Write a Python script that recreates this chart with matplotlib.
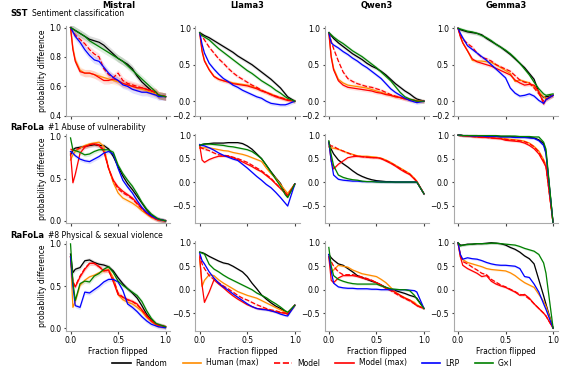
import numpy as np
import matplotlib
matplotlib.use("Agg")
import matplotlib.pyplot as plt
from matplotlib.lines import Line2D

# fraction of tokens flipped (shared x grid)
frac = [0, 0.025, 0.05, 0.1, 0.15, 0.2, 0.25, 0.3, 0.35, 0.4, 0.45,
        0.5, 0.55, 0.6, 0.65, 0.7, 0.75, 0.8, 0.85, 0.9, 0.925, 1.0]

methods = ["Random", "Human (max)", "Model", "Model (max)", "LRP", "G×I"]
colors = ["black", "darkorange", "red", "red", "blue", "green"]
styles = ["-", "-", "--", "-", "-", "-"]

models = ["Mistral", "Llama3", "Qwen3", "Gemma3"]

# ---- SST: sentiment classification ----
sst_mistral = {
    "Random":      [1.0, 0.99, 0.98, 0.96, 0.94, 0.92, 0.91, 0.90, 0.88, 0.85, 0.82, 0.79, 0.77, 0.75, 0.72, 0.67, 0.63, 0.60, 0.57, 0.55, 0.54, 0.53],
    "Human (max)": [1.0, 0.86, 0.78, 0.71, 0.69, 0.69, 0.68, 0.67, 0.66, 0.65, 0.64, 0.63, 0.62, 0.61, 0.60, 0.59, 0.58, 0.57, 0.56, 0.55, 0.54, 0.53],
    "Model":       [1.0, 0.97, 0.95, 0.92, 0.89, 0.85, 0.82, 0.80, 0.72, 0.68, 0.66, 0.69, 0.64, 0.62, 0.61, 0.60, 0.59, 0.58, 0.57, 0.56, 0.54, 0.53],
    "Model (max)": [1.0, 0.85, 0.77, 0.70, 0.69, 0.69, 0.68, 0.66, 0.64, 0.64, 0.65, 0.64, 0.62, 0.61, 0.60, 0.59, 0.59, 0.58, 0.57, 0.56, 0.54, 0.53],
    "LRP":         [1.0, 0.97, 0.94, 0.90, 0.85, 0.81, 0.78, 0.77, 0.73, 0.69, 0.66, 0.64, 0.61, 0.60, 0.58, 0.57, 0.56, 0.56, 0.55, 0.54, 0.53, 0.53],
    "G×I":         [1.0, 0.99, 0.98, 0.96, 0.94, 0.91, 0.89, 0.87, 0.85, 0.83, 0.81, 0.79, 0.77, 0.74, 0.71, 0.68, 0.65, 0.62, 0.59, 0.56, 0.54, 0.53],
}
sst_llama = {
    "Random":      [0.94, 0.92, 0.90, 0.87, 0.83, 0.79, 0.75, 0.71, 0.67, 0.62, 0.58, 0.54, 0.50, 0.45, 0.40, 0.35, 0.30, 0.24, 0.18, 0.10, 0.06, 0.0],
    "Human (max)": [0.94, 0.70, 0.56, 0.43, 0.34, 0.30, 0.28, 0.27, 0.25, 0.24, 0.23, 0.22, 0.20, 0.18, 0.15, 0.12, 0.10, 0.07, 0.05, 0.03, 0.02, 0.0],
    "Model":       [0.94, 0.89, 0.84, 0.74, 0.66, 0.58, 0.52, 0.45, 0.39, 0.34, 0.30, 0.26, 0.22, 0.19, 0.15, 0.12, 0.09, 0.07, 0.05, 0.03, 0.02, 0.0],
    "Model (max)": [0.94, 0.68, 0.55, 0.43, 0.34, 0.30, 0.28, 0.26, 0.24, 0.23, 0.22, 0.21, 0.19, 0.17, 0.14, 0.12, 0.09, 0.06, 0.04, 0.02, 0.01, 0.0],
    "LRP":         [0.94, 0.78, 0.66, 0.52, 0.44, 0.37, 0.31, 0.27, 0.22, 0.19, 0.15, 0.12, 0.09, 0.06, 0.04, 0.0, -0.03, -0.04, -0.05, -0.05, -0.04, 0.0],
    "G×I":         [0.94, 0.90, 0.88, 0.84, 0.78, 0.72, 0.67, 0.62, 0.57, 0.52, 0.47, 0.42, 0.38, 0.33, 0.28, 0.24, 0.20, 0.15, 0.11, 0.06, 0.04, 0.0],
}
sst_qwen = {
    "Random":      [0.94, 0.90, 0.86, 0.80, 0.75, 0.70, 0.65, 0.61, 0.57, 0.52, 0.48, 0.45, 0.41, 0.36, 0.30, 0.24, 0.19, 0.14, 0.10, 0.05, 0.03, 0.0],
    "Human (max)": [0.94, 0.62, 0.45, 0.30, 0.25, 0.22, 0.21, 0.20, 0.19, 0.18, 0.16, 0.14, 0.12, 0.10, 0.08, 0.06, 0.05, 0.04, 0.02, 0.01, 0.01, 0.0],
    "Model":       [0.94, 0.82, 0.72, 0.55, 0.40, 0.31, 0.27, 0.24, 0.22, 0.20, 0.19, 0.17, 0.15, 0.12, 0.09, 0.07, 0.05, 0.03, 0.02, 0.01, 0.0, 0.0],
    "Model (max)": [0.94, 0.60, 0.43, 0.28, 0.22, 0.19, 0.18, 0.17, 0.16, 0.15, 0.14, 0.12, 0.11, 0.09, 0.08, 0.06, 0.05, 0.03, 0.02, 0.01, 0.0, 0.0],
    "LRP":         [0.94, 0.80, 0.77, 0.73, 0.68, 0.64, 0.59, 0.55, 0.50, 0.46, 0.41, 0.36, 0.31, 0.24, 0.17, 0.12, 0.08, 0.04, 0.01, -0.01, -0.02, 0.0],
    "G×I":         [0.94, 0.91, 0.88, 0.83, 0.79, 0.74, 0.69, 0.65, 0.61, 0.56, 0.51, 0.46, 0.40, 0.34, 0.28, 0.20, 0.12, 0.06, 0.03, 0.01, 0.0, 0.0],
}
sst_gemma = {
    "Random":      [1.0, 0.98, 0.97, 0.95, 0.94, 0.93, 0.91, 0.86, 0.82, 0.78, 0.74, 0.69, 0.64, 0.58, 0.52, 0.46, 0.38, 0.30, 0.12, 0.05, 0.06, 0.08],
    "Human (max)": [1.0, 0.90, 0.80, 0.69, 0.56, 0.55, 0.55, 0.54, 0.53, 0.50, 0.46, 0.42, 0.38, 0.27, 0.29, 0.27, 0.25, 0.20, 0.13, 0.06, 0.03, 0.08],
    "Model":       [1.0, 0.90, 0.85, 0.79, 0.74, 0.66, 0.60, 0.58, 0.55, 0.50, 0.47, 0.44, 0.41, 0.35, 0.29, 0.26, 0.25, 0.18, 0.10, 0.0, 0.03, 0.08],
    "Model (max)": [1.0, 0.88, 0.80, 0.69, 0.58, 0.54, 0.52, 0.50, 0.48, 0.45, 0.42, 0.39, 0.36, 0.29, 0.25, 0.22, 0.23, 0.22, 0.13, -0.04, 0.02, 0.08],
    "LRP":         [1.0, 0.93, 0.87, 0.76, 0.71, 0.66, 0.61, 0.56, 0.50, 0.44, 0.38, 0.32, 0.18, 0.11, 0.07, 0.08, 0.10, 0.07, 0.01, -0.03, 0.02, 0.08],
    "G×I":         [1.0, 0.99, 0.98, 0.96, 0.95, 0.93, 0.90, 0.87, 0.83, 0.78, 0.74, 0.70, 0.65, 0.59, 0.52, 0.44, 0.36, 0.26, 0.17, 0.10, 0.08, 0.10],
}

# ---- RaFoLa #1: abuse of vulnerability ----
raf1_mistral = {
    "Random":      [0.78, 0.84, 0.86, 0.87, 0.88, 0.89, 0.90, 0.89, 0.89, 0.85, 0.76, 0.64, 0.53, 0.44, 0.37, 0.29, 0.21, 0.13, 0.07, 0.03, 0.02, 0.0],
    "Human (max)": [0.72, 0.78, 0.82, 0.86, 0.89, 0.91, 0.92, 0.93, 0.88, 0.62, 0.45, 0.33, 0.27, 0.24, 0.21, 0.17, 0.12, 0.08, 0.04, 0.02, 0.01, 0.0],
    "Model":       [0.85, 0.83, 0.84, 0.86, 0.88, 0.90, 0.91, 0.90, 0.84, 0.62, 0.47, 0.38, 0.33, 0.30, 0.26, 0.20, 0.14, 0.09, 0.05, 0.02, 0.01, 0.0],
    "Model (max)": [0.80, 0.45, 0.55, 0.80, 0.87, 0.90, 0.91, 0.89, 0.82, 0.62, 0.48, 0.40, 0.35, 0.31, 0.27, 0.21, 0.15, 0.09, 0.05, 0.02, 0.01, 0.0],
    "LRP":         [0.82, 0.80, 0.77, 0.73, 0.71, 0.70, 0.73, 0.76, 0.80, 0.82, 0.79, 0.62, 0.48, 0.40, 0.33, 0.24, 0.16, 0.10, 0.06, 0.03, 0.02, 0.0],
    "G×I":         [0.98, 0.84, 0.83, 0.81, 0.78, 0.79, 0.82, 0.84, 0.84, 0.84, 0.81, 0.66, 0.56, 0.48, 0.41, 0.32, 0.22, 0.14, 0.08, 0.04, 0.02, 0.0],
}
raf1_llama = {
    "Random":      [0.78, 0.80, 0.81, 0.82, 0.83, 0.83, 0.83, 0.84, 0.84, 0.84, 0.82, 0.77, 0.70, 0.60, 0.50, 0.36, 0.22, 0.09, -0.03, -0.24, -0.31, -0.04],
    "Human (max)": [0.72, 0.73, 0.73, 0.73, 0.71, 0.69, 0.67, 0.66, 0.63, 0.61, 0.59, 0.56, 0.52, 0.48, 0.44, 0.30, 0.18, 0.08, -0.05, -0.18, -0.24, -0.04],
    "Model":       [0.75, 0.72, 0.70, 0.67, 0.62, 0.58, 0.57, 0.56, 0.53, 0.50, 0.46, 0.42, 0.36, 0.30, 0.24, 0.16, 0.08, -0.03, -0.13, -0.22, -0.28, -0.04],
    "Model (max)": [0.78, 0.47, 0.42, 0.48, 0.52, 0.55, 0.55, 0.55, 0.52, 0.48, 0.43, 0.38, 0.33, 0.27, 0.22, 0.14, 0.06, -0.04, -0.14, -0.24, -0.29, -0.04],
    "LRP":         [0.80, 0.78, 0.77, 0.73, 0.68, 0.62, 0.57, 0.53, 0.49, 0.46, 0.38, 0.30, 0.21, 0.12, 0.04, -0.05, -0.12, -0.22, -0.33, -0.45, -0.51, -0.04],
    "G×I":         [0.78, 0.80, 0.81, 0.81, 0.80, 0.79, 0.78, 0.76, 0.75, 0.73, 0.71, 0.69, 0.65, 0.58, 0.50, 0.36, 0.21, 0.06, -0.09, -0.27, -0.33, -0.04],
}
raf1_qwen = {
    "Random":      [0.85, 0.70, 0.60, 0.47, 0.39, 0.32, 0.24, 0.17, 0.12, 0.08, 0.05, 0.03, 0.02, 0.01, 0.01, 0.0, 0.0, 0.0, 0.0, 0.0, 0.0, -0.25],
    "Human (max)": [0.75, 0.73, 0.72, 0.70, 0.66, 0.62, 0.59, 0.56, 0.55, 0.55, 0.54, 0.53, 0.51, 0.47, 0.42, 0.36, 0.30, 0.24, 0.18, 0.08, 0.02, -0.25],
    "Model":       [0.80, 0.77, 0.76, 0.70, 0.66, 0.62, 0.58, 0.55, 0.54, 0.53, 0.52, 0.52, 0.50, 0.46, 0.41, 0.35, 0.29, 0.23, 0.17, 0.07, 0.01, -0.25],
    "Model (max)": [0.85, 0.45, 0.28, 0.38, 0.45, 0.52, 0.54, 0.55, 0.54, 0.53, 0.52, 0.52, 0.50, 0.45, 0.40, 0.34, 0.27, 0.21, 0.16, 0.06, 0.01, -0.25],
    "LRP":         [0.85, 0.45, 0.15, 0.06, 0.04, 0.03, 0.02, 0.02, 0.01, 0.01, 0.01, 0.01, 0.0, 0.0, 0.0, 0.0, 0.0, 0.0, 0.0, 0.0, 0.0, -0.25],
    "G×I":         [0.88, 0.58, 0.35, 0.15, 0.10, 0.07, 0.05, 0.04, 0.02, 0.01, 0.01, 0.0, 0.0, 0.0, 0.0, 0.0, 0.0, 0.0, 0.0, 0.0, 0.0, -0.25],
}
raf1_gemma = {
    "Random":      [1.0, 1.0, 0.99, 0.99, 0.99, 0.99, 0.98, 0.98, 0.98, 0.98, 0.97, 0.97, 0.97, 0.96, 0.96, 0.96, 0.95, 0.94, 0.90, 0.82, 0.63, -0.88],
    "Human (max)": [1.0, 1.0, 0.99, 0.98, 0.97, 0.97, 0.96, 0.96, 0.95, 0.94, 0.94, 0.92, 0.91, 0.90, 0.89, 0.87, 0.83, 0.76, 0.66, 0.48, 0.36, -0.88],
    "Model":       [1.0, 0.99, 0.99, 0.98, 0.97, 0.96, 0.96, 0.95, 0.94, 0.93, 0.93, 0.91, 0.90, 0.89, 0.88, 0.86, 0.82, 0.75, 0.64, 0.45, 0.34, -0.88],
    "Model (max)": [1.0, 0.99, 0.99, 0.98, 0.97, 0.96, 0.95, 0.95, 0.94, 0.93, 0.92, 0.89, 0.88, 0.87, 0.86, 0.83, 0.78, 0.71, 0.60, 0.42, 0.32, -0.88],
    "LRP":         [1.0, 1.0, 0.99, 0.99, 0.98, 0.98, 0.98, 0.97, 0.97, 0.97, 0.96, 0.96, 0.96, 0.95, 0.95, 0.95, 0.94, 0.93, 0.88, 0.78, 0.60, -0.88],
    "G×I":         [1.0, 1.0, 0.99, 0.99, 0.99, 0.99, 0.99, 0.99, 0.99, 0.99, 0.98, 0.98, 0.98, 0.98, 0.97, 0.97, 0.97, 0.96, 0.96, 0.85, 0.70, -0.88],
}

# ---- RaFoLa #8: physical & sexual violence ----
raf8_mistral = {
    "Random":      [0.88, 0.66, 0.70, 0.72, 0.80, 0.81, 0.78, 0.76, 0.75, 0.73, 0.68, 0.60, 0.53, 0.47, 0.42, 0.36, 0.27, 0.17, 0.10, 0.05, 0.04, 0.02],
    "Human (max)": [0.85, 0.25, 0.32, 0.51, 0.57, 0.61, 0.63, 0.66, 0.68, 0.70, 0.60, 0.40, 0.34, 0.31, 0.29, 0.25, 0.20, 0.13, 0.08, 0.04, 0.03, 0.02],
    "Model":       [0.85, 0.55, 0.50, 0.62, 0.71, 0.77, 0.77, 0.73, 0.69, 0.68, 0.58, 0.42, 0.37, 0.34, 0.32, 0.28, 0.22, 0.15, 0.09, 0.05, 0.04, 0.02],
    "Model (max)": [0.85, 0.55, 0.49, 0.61, 0.70, 0.77, 0.77, 0.73, 0.68, 0.69, 0.55, 0.40, 0.37, 0.34, 0.32, 0.29, 0.22, 0.15, 0.09, 0.05, 0.04, 0.02],
    "LRP":         [0.85, 0.50, 0.27, 0.25, 0.43, 0.42, 0.46, 0.50, 0.55, 0.58, 0.58, 0.55, 0.45, 0.29, 0.25, 0.20, 0.14, 0.09, 0.05, 0.03, 0.02, 0.01],
    "G×I":         [1.0, 0.55, 0.33, 0.53, 0.56, 0.55, 0.62, 0.65, 0.70, 0.73, 0.66, 0.56, 0.51, 0.47, 0.43, 0.39, 0.32, 0.21, 0.12, 0.06, 0.05, 0.02],
}
raf8_llama = {
    "Random":      [0.80, 0.79, 0.77, 0.71, 0.66, 0.61, 0.57, 0.55, 0.50, 0.44, 0.38, 0.28, 0.14, 0.02, -0.11, -0.20, -0.28, -0.35, -0.40, -0.47, -0.52, -0.33],
    "Human (max)": [0.65, 0.07, 0.20, 0.32, 0.30, 0.21, 0.14, 0.08, 0.02, -0.04, -0.08, -0.12, -0.15, -0.18, -0.23, -0.28, -0.33, -0.38, -0.43, -0.48, -0.50, -0.33],
    "Model":       [0.75, 0.55, 0.45, 0.30, 0.22, 0.15, 0.08, 0.02, -0.05, -0.12, -0.18, -0.22, -0.27, -0.32, -0.36, -0.40, -0.43, -0.45, -0.48, -0.50, -0.52, -0.33],
    "Model (max)": [0.70, 0.10, -0.27, -0.05, 0.21, 0.12, 0.04, -0.05, -0.13, -0.20, -0.26, -0.32, -0.36, -0.40, -0.41, -0.42, -0.45, -0.47, -0.49, -0.50, -0.52, -0.33],
    "LRP":         [0.78, 0.62, 0.55, 0.38, 0.25, 0.14, 0.06, -0.01, -0.09, -0.16, -0.23, -0.30, -0.36, -0.40, -0.42, -0.43, -0.45, -0.48, -0.52, -0.55, -0.56, -0.33],
    "G×I":         [0.80, 0.78, 0.76, 0.54, 0.44, 0.38, 0.31, 0.25, 0.20, 0.15, 0.10, 0.05, 0.0, -0.07, -0.12, -0.17, -0.24, -0.30, -0.37, -0.45, -0.48, -0.33],
}
raf8_qwen = {
    "Random":      [0.75, 0.68, 0.63, 0.55, 0.52, 0.45, 0.38, 0.30, 0.26, 0.22, 0.18, 0.15, 0.10, 0.05, 0.0, -0.02, -0.05, -0.08, -0.12, -0.15, -0.18, -0.40],
    "Human (max)": [0.70, 0.38, 0.42, 0.52, 0.50, 0.48, 0.42, 0.38, 0.34, 0.32, 0.30, 0.28, 0.22, 0.15, 0.05, -0.05, -0.12, -0.17, -0.22, -0.27, -0.32, -0.40],
    "Model":       [0.72, 0.60, 0.50, 0.38, 0.32, 0.32, 0.32, 0.30, 0.27, 0.24, 0.20, 0.15, 0.10, 0.03, -0.02, -0.08, -0.14, -0.19, -0.24, -0.30, -0.34, -0.40],
    "Model (max)": [0.70, 0.20, 0.15, 0.25, 0.30, 0.30, 0.30, 0.28, 0.25, 0.22, 0.20, 0.15, 0.10, 0.03, 0.0, -0.06, -0.12, -0.18, -0.22, -0.30, -0.34, -0.40],
    "LRP":         [0.75, 0.40, 0.14, 0.06, 0.04, 0.03, 0.03, 0.02, 0.02, 0.02, 0.01, 0.01, 0.0, 0.0, 0.0, 0.0, 0.0, 0.0, -0.01, -0.02, -0.05, -0.40],
    "G×I":         [0.90, 0.50, 0.30, 0.22, 0.18, 0.15, 0.13, 0.12, 0.12, 0.12, 0.12, 0.12, 0.08, 0.05, 0.02, 0.01, 0.0, 0.0, -0.02, -0.12, -0.20, -0.40],
}
raf8_gemma = {
    "Random":      [1.0, 0.95, 0.95, 0.97, 0.97, 0.98, 0.98, 0.99, 1.0, 0.99, 0.98, 0.95, 0.90, 0.86, 0.80, 0.72, 0.66, 0.55, 0.21, -0.13, -0.31, -0.82],
    "Human (max)": [1.0, 0.70, 0.64, 0.58, 0.55, 0.52, 0.49, 0.45, 0.43, 0.42, 0.41, 0.40, 0.36, 0.30, 0.22, 0.15, 0.10, 0.05, -0.10, -0.25, -0.35, -0.82],
    "Model":       [1.0, 0.75, 0.60, 0.55, 0.48, 0.42, 0.35, 0.32, 0.22, 0.16, 0.10, 0.06, 0.01, -0.04, -0.10, -0.12, -0.20, -0.30, -0.40, -0.50, -0.56, -0.82],
    "Model (max)": [1.0, 0.70, 0.52, 0.45, 0.40, 0.35, 0.28, 0.30, 0.18, 0.12, 0.08, 0.05, 0.0, -0.05, -0.12, -0.10, -0.18, -0.30, -0.40, -0.50, -0.56, -0.82],
    "LRP":         [1.0, 0.75, 0.65, 0.68, 0.66, 0.65, 0.62, 0.58, 0.55, 0.53, 0.52, 0.52, 0.51, 0.50, 0.45, 0.28, 0.26, 0.12, -0.05, -0.30, -0.42, -0.82],
    "G×I":         [1.0, 0.93, 0.95, 0.96, 0.97, 0.98, 0.98, 0.98, 0.99, 0.99, 0.98, 0.97, 0.96, 0.95, 0.92, 0.88, 0.85, 0.82, 0.75, 0.57, 0.35, -0.82],
}

panels = [
    [sst_mistral, sst_llama, sst_qwen, sst_gemma],
    [raf1_mistral, raf1_llama, raf1_qwen, raf1_gemma],
    [raf8_mistral, raf8_llama, raf8_qwen, raf8_gemma],
]

band = 0.025  # half-width of the shaded interval
fs = 5.5

plt.rcParams["font.family"] = "DejaVu Sans"
plt.rcParams["font.size"] = fs

fig, axes = plt.subplots(3, 4, figsize=(5.71, 3.67), dpi=100)
plt.subplots_adjust(left=0.116, right=0.977, top=0.929, bottom=0.098,
                    wspace=0.24, hspace=0.2)

x = np.array(frac)
for r in range(3):
    for c in range(4):
        ax = axes[r, c]
        data = panels[r][c]
        for m, col, ls in zip(methods, colors, styles):
            y = np.array(data[m])
            ax.fill_between(x, y - band, y + band, color=col, alpha=0.12, lw=0)
            ax.plot(x, y, color=col, ls=ls, lw=0.9)
        for s in ["top", "right"]:
            ax.spines[s].set_visible(False)
        for s in ["left", "bottom"]:
            ax.spines[s].set_color("#aaaaaa")
        ax.tick_params(labelsize=fs, length=1.8, color="#444444", pad=1.5)
        ax.set_xticks([0, 0.5, 1.0])
        ax.set_xlim(-0.045, 1.05)
        if r < 2:
            ax.set_xticklabels([])
        else:
            ax.set_xlabel("Fraction flipped", fontsize=fs, labelpad=1.5)
        if c == 0:
            ax.set_ylabel("probability difference", fontsize=fs, labelpad=1.5)
            if r == 0:
                ax.set_ylim(0.4, 1.01)
                ax.set_yticks([0.4, 0.6, 0.8, 1.0])
            else:
                ax.set_ylim(-0.03, 1.03)
                ax.set_yticks([0.0, 0.5, 1.0])
        else:
            if r == 0:
                ax.set_ylim(-0.2, 1.03)
                ax.set_yticks([-0.2, 0.0, 0.5, 1.0])
            else:
                ax.set_ylim(-0.88, 1.03)
                ax.set_yticks([-0.5, 0.0, 0.5, 1.0])

# column titles
for c, name in enumerate(models):
    pos = axes[0, c].get_position()
    fig.text((pos.x0 + pos.x1) / 2, 0.985, name, ha="center", va="center",
             fontsize=6, fontweight="bold")

# row labels
row_tags = ["SST", "RaFoLa", "RaFoLa"]
row_desc = ["Sentiment classification", "#1 Abuse of vulnerability",
            "#8 Physical & sexual violence"]
row_y = [1 - 14 / 367, 1 - 127 / 367, 1 - 235 / 367]
row_desc_x = [32 / 571, 48 / 571, 48 / 571]
for tag, desc, yy, dx in zip(row_tags, row_desc, row_y, row_desc_x):
    fig.text(10 / 571, yy, tag, ha="left", va="center", fontsize=6, fontweight="bold")
    fig.text(dx, yy, desc, ha="left", va="center", fontsize=fs)

handles = [Line2D([0], [0], color=col, ls=ls, lw=1.2) for col, ls in zip(colors, styles)]
fig.legend(handles, methods, loc="center", bbox_to_anchor=(0.547, 1 - 363 / 367), ncol=6,
           frameon=False, fontsize=fs, handlelength=2.4, columnspacing=2.0,
           handletextpad=0.65, borderpad=0.1)

plt.savefig("out.png", dpi=100)
